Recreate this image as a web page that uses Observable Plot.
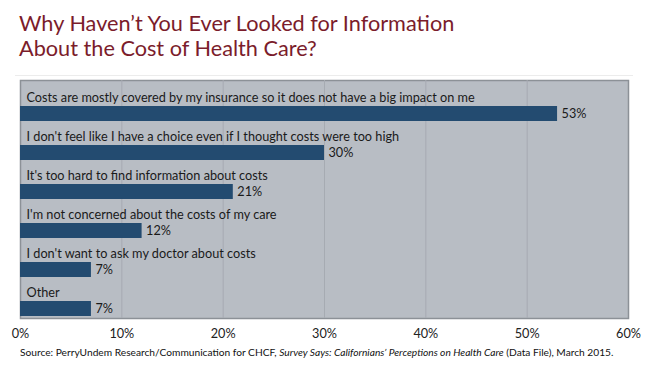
<!DOCTYPE html>
<html>
<head>
<meta charset="utf-8">
<script src="https://cdn.jsdelivr.net/npm/d3@7"></script>
<script src="https://cdn.jsdelivr.net/npm/@observablehq/plot@0.6"></script>
<style>
  html, body { margin: 0; padding: 0; background: #fff; }
  #wrap { position: relative; width: 650px; height: 376px; font-family: Lato, "Open Sans", sans-serif; }
  #title { position: absolute; left: 19px; top: 11px; color: #7b1c2b; font-size: 21.7px; line-height: 25px; font-weight: 400; white-space: nowrap; }
  #sep { position: absolute; left: 15px; top: 75px; width: 618px; height: 1px; background: #ececec; }
  #chart { position: absolute; left: 0; top: 78px; }
  #source { position: absolute; left: 20px; top: 346px; font-size: 10.2px; color: #111; white-space: nowrap; }
</style>
</head>
<body>
<div id="wrap">
  <div id="title">Why Haven’t You Ever Looked for Information<br>About the Cost of Health Care?</div>
  <div id="sep"></div>
  <div id="chart"></div>
  <div id="source">Source: PerryUndem Research/Communication for CHCF, <i>Survey Says: Californians’ Perceptions on Health Care</i> (Data File), March 2015.</div>
</div>
<script>
const categories = [
  "Costs are mostly covered by my insurance so it does not have a big impact on me",
  "I don't feel like I have a choice even if I thought costs were too high",
  "It's too hard to find information about costs",
  "I'm not concerned about the costs of my care",
  "I don't want to ask my doctor about costs",
  "Other"
];
const values = [53, 30, 21, 12, 7, 7];
const xTicks = [0, 10, 20, 30, 40, 50, 60];

const data = categories.map((c, i) => ({category: c, value: values[i]}));

const chart = Plot.plot({
  width: 650,
  height: 266,
  marginLeft: 20,
  marginRight: 22,
  marginTop: 2,
  marginBottom: 26,
  style: {fontFamily: "Lato, 'Open Sans', sans-serif", fontSize: "12px", color: "#222", background: "transparent"},
  x: {domain: [0, 60], ticks: xTicks, tickFormat: d => d + "%", label: null},
  y: {domain: categories, padding: 0, axis: null},
  marks: [
    Plot.frame({fill: "#b8bdc4", stroke: "#8c9197", strokeWidth: 1.5}),
    Plot.gridX(xTicks.slice(1, -1), {stroke: "#a6abb2", strokeOpacity: 1, strokeWidth: 1}),
    Plot.barX(data, {x: "value", y: "category", fill: "#234b70", insetTop: 24, insetBottom: 0}),
    Plot.text(data, {x: 0, y: "category", text: "category", textAnchor: "start", dx: 6, dy: -4, fontSize: 12.7, fill: "#1a1a1a"}),
    Plot.text(data, {x: "value", y: "category", text: d => d.value + "%", textAnchor: "start", dx: 4, dy: 12, fontSize: 12.7, fill: "#1a1a1a"}),
    Plot.axisX({ticks: xTicks, tickFormat: d => d + "%", tickSize: 0, tickPadding: 10, fontSize: 12.7, label: null})
  ]
});
document.getElementById("chart").appendChild(chart);
</script>
</body>
</html>
